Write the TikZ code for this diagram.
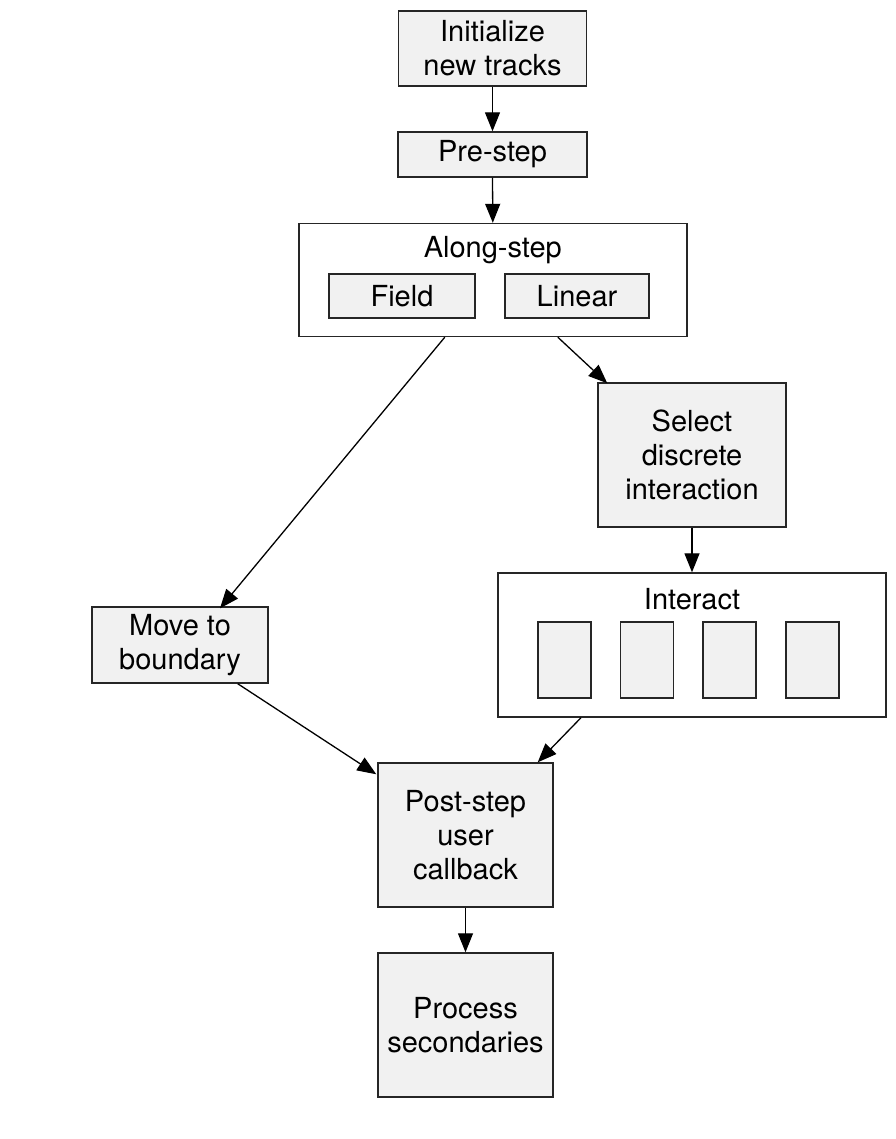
\documentclass[tikz,border=0pt]{standalone}
\usepackage{fontspec}
\setmainfont{TeX Gyre Heros}
\usetikzlibrary{arrows.meta}
\definecolor{boxfill}{HTML}{F1F1F1}
\tikzset{
  box/.style={draw=black!85, line width=1.4pt, fill=boxfill, inner sep=0pt, align=center,
    font=\fontsize{29}{34}\selectfont},
  frame/.style={draw=black!85, line width=1.4pt, fill=white, inner sep=0pt},
  lbl/.style={inner sep=0pt, font=\fontsize{29}{34}\selectfont},
  conn/.style={line width=1.3pt, -{Triangle[length=19pt,width=15pt]}},
}
\begin{document}
\begin{tikzpicture}[x=1pt,y=-1pt]
\useasboundingbox (0,0) rectangle (895,1139);
\node[box, minimum width=188pt, minimum height=75pt] (init) at (492.5,48.5) {Initialize\\new tracks};
\node[box, minimum width=189pt, minimum height=45pt] (pre) at (492.5,154.5) {Pre-step};
\node[frame, minimum width=388pt, minimum height=113pt] (along) at (492.8,280) {};
\node[lbl] (alonglbl) at (492.8,250) {Along-step};
\node[box, minimum width=146pt, minimum height=44pt] (field) at (402,296) {Field};
\node[box, minimum width=144pt, minimum height=44pt] (linear) at (577,296) {Linear};
\node[box, minimum width=188pt, minimum height=144pt] (select) at (692,455) {Select\\discrete\\interaction};
\node[frame, minimum width=388pt, minimum height=144pt] (interact) at (692,645) {};
\node[lbl] (interactlbl) at (692,599) {Interact};
\node[box, minimum width=53pt, minimum height=76pt] (i1) at (564.5,660) {};
\node[box, minimum width=53pt, minimum height=76pt] (i2) at (647,660) {};
\node[box, minimum width=53pt, minimum height=76pt] (i3) at (729.5,660) {};
\node[box, minimum width=53pt, minimum height=76pt] (i4) at (812.5,660) {};
\node[box, minimum width=176pt, minimum height=76pt] (move) at (180,645) {Move to\\boundary};
\node[box, minimum width=175pt, minimum height=144pt] (post) at (465.5,835) {Post-step\\user\\callback};
\node[box, minimum width=175pt, minimum height=144pt] (proc) at (465.5,1025) {Process\\secondaries};

\draw[conn] (init.south) -- (pre.north);
\draw[conn] (pre.south) -- (along.north);
\draw[conn] ([xshift=-48pt]along.south) -- ([xshift=40pt,yshift=-2pt]move.north);
\draw[conn] ([xshift=65pt]along.south) -- ([xshift=10pt,yshift=-1pt]select.north west);
\draw[conn] (select.south) -- (interact.north);
\draw[conn] ([xshift=57.7pt]move.south) -- ([yshift=-12pt,xshift=-1pt]post.north west);
\draw[conn] ([xshift=-111pt]interact.south) -- ([xshift=-16pt]post.north east);
\draw[conn] (post.south) -- (proc.north);
\end{tikzpicture}
\end{document}
